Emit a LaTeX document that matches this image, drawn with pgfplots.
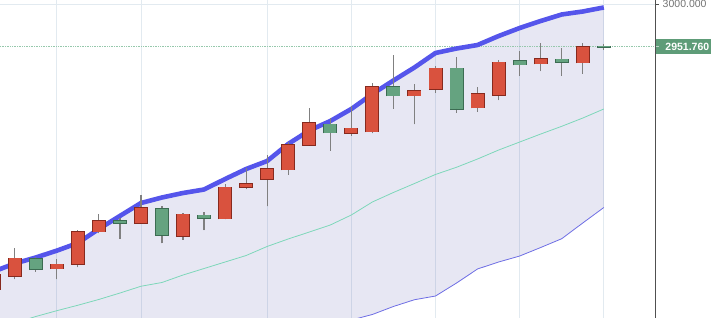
\documentclass[border=0pt]{standalone}
\usepackage{fontspec}
\setmainfont{Liberation Sans}
\usepackage{pgfplots}
\usepackage{pgfplotstable}
\pgfplotsset{compat=1.18}

\definecolor{upfill}{RGB}{217,82,62}
\definecolor{upedge}{RGB}{135,42,30}
\definecolor{dnfill}{RGB}{101,163,128}
\definecolor{dnedge}{RGB}{60,108,82}
\definecolor{wickc}{RGB}{128,128,128}
\definecolor{upperc}{RGB}{85,85,235}
\definecolor{midc}{RGB}{125,215,185}
\definecolor{lowerc}{RGB}{110,110,228}
\definecolor{bandc}{RGB}{60,60,160}
\definecolor{gridc}{RGB}{226,234,240}
\definecolor{axisc}{RGB}{80,80,80}
\definecolor{labc}{RGB}{115,115,115}
\definecolor{pricec}{RGB}{94,156,120}
\definecolor{dotc}{RGB}{150,200,172}

% red candles: x low bodylow bodyhigh high
\pgfplotstableread{
x low blo bhi high
-1 2672.7 2675.8 2692.8 2695.4
0 2686.9 2690.9 2711.0 2722.4
2 2687.1 2699.4 2704.2 2710.2
3 2700.6 2704.5 2741.3 2743.6
4 2739.5 2741.3 2753.8 2761.4
6 2750.6 2751.0 2768.3 2783.4
8 2732.2 2736.4 2761.1 2762.6
10 2755.4 2756.1 2791.6 2795.9
11 2789.6 2792.1 2795.6 2814.0
12 2770.0 2800.9 2812.6 2828.6
13 2805.8 2811.8 2839.9 2843.7
14 2838.8 2839.9 2865.3 2881.7
16 2850.7 2853.8 2858.9 2884.3
17 2853.2 2855.1 2906.3 2910.8
19 2863.5 2896.0 2901.7 2909.0
20 2899.4 2903.3 2927.2 2929.8
22 2877.8 2882.4 2898.0 2905.6
23 2891.1 2896.8 2934.0 2936.6
25 2924.1 2932.4 2938.1 2955.6
27 2921.0 2933.6 2951.8 2956.3
}\redc

% green candles
\pgfplotstableread{
x low blo bhi high
1 2695.8 2698.5 2710.2 2712.2
5 2733.0 2750.8 2753.8 2756.5
7 2728.1 2737.3 2767.1 2770.5
9 2742.7 2756.5 2759.9 2763.4
15 2833.4 2853.9 2863.5 2871.2
18 2880.9 2896.0 2906.3 2942.3
21 2876.7 2880.9 2927.2 2939.7
24 2918.8 2931.3 2935.5 2946.9
26 2918.8 2934.4 2937.4 2949.9
28 2948.0 2951.3 2952.2 2954.8
}\grnc

% Bollinger bands: x upper middle lower
\pgfplotstableread{
x up mid lo
-1 2696.0 2629.5 2562.9
0 2705.1 2637.4 2569.7
1 2711.9 2644.8 2577.7
2 2719.7 2651.4 2583.1
3 2728.4 2657.6 2586.7
4 2744.4 2664.2 2583.9
5 2759.2 2671.5 2583.9
6 2773.9 2679.2 2584.4
7 2780.2 2683.5 2586.8
8 2785.3 2692.0 2598.7
9 2789.3 2699.4 2609.5
10 2801.2 2706.8 2612.4
11 2812.6 2714.2 2615.8
12 2821.7 2724.5 2627.2
13 2841.1 2733.0 2624.9
14 2856.4 2740.9 2625.4
15 2867.2 2748.9 2630.6
16 2880.9 2760.3 2640.8
17 2898.0 2775.1 2647.1
18 2913.3 2785.9 2656.2
19 2928.1 2796.1 2663.9
20 2944.6 2806.4 2668.1
21 2949.7 2814.6 2682.9
22 2953.7 2824.0 2698.9
23 2963.9 2834.2 2706.8
24 2973.0 2843.3 2713.6
25 2981.0 2852.4 2723.3
26 2988.4 2861.2 2733.3
27 2991.8 2870.6 2751.2
28 2996.4 2880.9 2768.8
}\bands

% band area outline: upper band forward, lower band backward
\pgfplotstableread{
x y
-1 2696.0
0 2705.1
1 2711.9
2 2719.7
3 2728.4
4 2744.4
5 2759.2
6 2773.9
7 2780.2
8 2785.3
9 2789.3
10 2801.2
11 2812.6
12 2821.7
13 2841.1
14 2856.4
15 2867.2
16 2880.9
17 2898.0
18 2913.3
19 2928.1
20 2944.6
21 2949.7
22 2953.7
23 2963.9
24 2973.0
25 2981.0
26 2988.4
27 2991.8
28 2996.4
28 2768.8
27 2751.2
26 2733.3
25 2723.3
24 2713.6
23 2706.8
22 2698.9
21 2682.9
20 2668.1
19 2663.9
18 2656.2
17 2647.1
16 2640.8
15 2630.6
14 2625.4
13 2624.9
12 2627.2
11 2615.8
10 2612.4
9 2609.5
8 2598.7
7 2586.8
6 2584.4
5 2583.9
4 2583.9
3 2586.7
2 2583.1
1 2577.7
0 2569.7
-1 2562.9
}\bandarea

\pgfplotsset{
  candlebar/.style 2 args={only marks, mark=*, mark size=0pt,
    mark options={draw=none, fill=none}, forget plot,
    error bars/.cd, y dir=plus, y explicit, error mark=none,
    error bar style={line width=#1, draw=#2}},
}

\begin{document}
\begin{tikzpicture}
\begin{axis}[
  name=ax,
  at={(0,0)}, anchor=south west,
  scale only axis, width=655.7pt, height=318pt,
  xmin=-0.6987, xmax=30.466, ymin=2643.1, ymax=3004.89,
  axis line style={draw=none},
  xtick={2,6,12,16,20,24,28}, xticklabels={},
  x tick style={draw=none},
  xmajorgrids, ymajorgrids,
  major grid style={color=gridc, line width=0.8pt},
  ytick={3000}, ytick pos=right, yticklabel pos=right,
  tick align=outside, major tick length=3.5pt,
  y tick style={draw=axisc, line width=0.8pt},
  yticklabel style={anchor=west, text=labc, font=\fontsize{10.5}{12}\selectfont,
    /pgf/number format/fixed, /pgf/number format/fixed zerofill,
    /pgf/number format/precision=3, /pgf/number format/1000 sep={},
    /pgf/number format/assume math mode=true},
  clip=true,
]
% band area
\addplot[fill=bandc, fill opacity=0.12, draw=none, forget plot] table[x=x, y=y] {\bandarea} -- cycle;

% current price dotted line
\addplot[dotc, densely dotted, line width=0.7pt, forget plot] coordinates {(-0.6987,2951.76) (30.466,2951.76)};

% bands
\addplot[midc, line width=0.8pt, forget plot] table[x=x, y=mid] {\bands};
\addplot[lowerc, line width=0.8pt, forget plot] table[x=x, y=lo] {\bands};
\addplot[upperc, line width=4.6pt, line join=round, forget plot] table[x=x, y=up] {\bands};

% wicks
\addplot[candlebar={1.2pt}{wickc}]
  table[x=x, y=low, y error plus expr=\thisrow{high}-\thisrow{low}] {\redc};
\addplot[candlebar={1.2pt}{wickc}]
  table[x=x, y=low, y error plus expr=\thisrow{high}-\thisrow{low}] {\grnc};

% body borders
\addplot[candlebar={14pt}{upedge}]
  table[x=x, y expr=\thisrow{blo}-0.8, y error plus expr=\thisrow{bhi}-\thisrow{blo}+1.6] {\redc};
\addplot[candlebar={14pt}{dnedge}]
  table[x=x, y expr=\thisrow{blo}-0.8, y error plus expr=\thisrow{bhi}-\thisrow{blo}+1.6] {\grnc};
% body fills
\addplot[candlebar={12.2pt}{upfill}]
  table[x=x, y=blo, y error plus expr=\thisrow{bhi}-\thisrow{blo}] {\redc};
\addplot[candlebar={12.2pt}{dnfill}]
  table[x=x, y=blo, y error plus expr=\thisrow{bhi}-\thisrow{blo}] {\grnc};

\coordinate (pl) at (axis cs:30.466,2951.76);
\end{axis}
% right price scale line
\draw[axisc, line width=1.2pt] (ax.south east) -- (ax.north east);
% current price label
\node[fill=pricec, text=white, anchor=west, font=\bfseries\fontsize{10.5}{12}\selectfont,
  minimum height=14.7pt, inner xsep=9.5pt, inner ysep=0pt]
  at (pl) {2951.760};
\draw[white!60!pricec, line width=0.8pt] (pl) -- ++(3.5pt,0);
\pgfresetboundingbox
\useasboundingbox (0,0) rectangle (711pt,318pt);
\end{tikzpicture}
\end{document}
